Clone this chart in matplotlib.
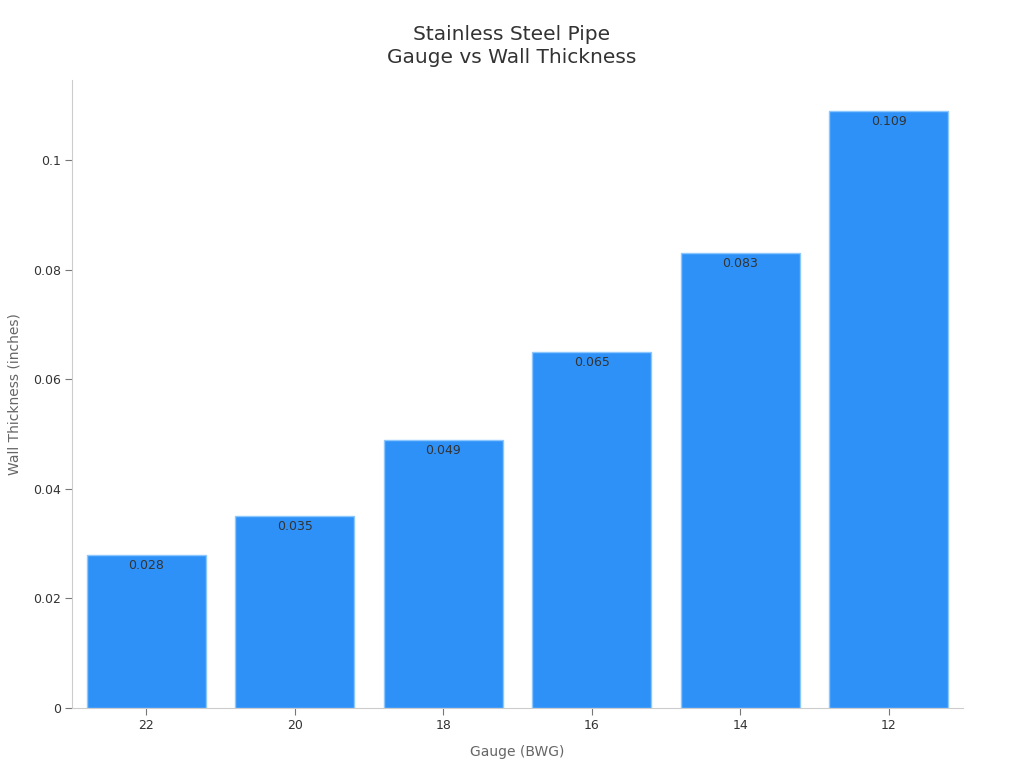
import matplotlib
matplotlib.use("Agg")
import matplotlib.pyplot as plt

gauges = ["22", "20", "18", "16", "14", "12"]
thickness = [0.028, 0.035, 0.049, 0.065, 0.083, 0.109]

plt.rcParams['font.family'] = ['DejaVu Sans']

fig = plt.figure(figsize=(10.24, 7.68), dpi=100)
ax = fig.add_axes([0.0703, 0.0781, 0.8701, 0.8177])

x = list(range(len(gauges)))
bars = ax.bar(x, thickness, width=0.8, color="#2E91F8", edgecolor="#8CC8FF", linewidth=1)

for xi, v in zip(x, thickness):
    ax.annotate(str(v), (xi, v), xytext=(0, -3), textcoords="offset points",
                ha="center", va="top", fontsize=9, color="#333333")

ax.set_xlim(-0.5, 5.5)
ax.set_ylim(0, 0.1146)
ax.set_xticks(x)
ax.set_xticklabels(gauges)
ax.set_yticks([0, 0.02, 0.04, 0.06, 0.08, 0.1])
ax.set_yticklabels(["0", "0.02", "0.04", "0.06", "0.08", "0.1"])
ax.tick_params(labelsize=9, labelcolor="#333333")
ax.tick_params(axis="both", color="#777777", length=5, pad=3)

for s in ["top", "right"]:
    ax.spines[s].set_visible(False)
for s in ["left", "bottom"]:
    ax.spines[s].set_color("#cccccc")

ax.set_xlabel("Gauge (BWG)", fontsize=10, color="#666666", labelpad=9)
ax.set_ylabel("Wall Thickness (inches)", fontsize=10, color="#666666", labelpad=8)
fig.suptitle("Stainless Steel Pipe\nGauge vs Wall Thickness", fontsize=14.5, color="#333333",
             y=0.968, linespacing=1.3)

fig.savefig("out.png", dpi=100)
